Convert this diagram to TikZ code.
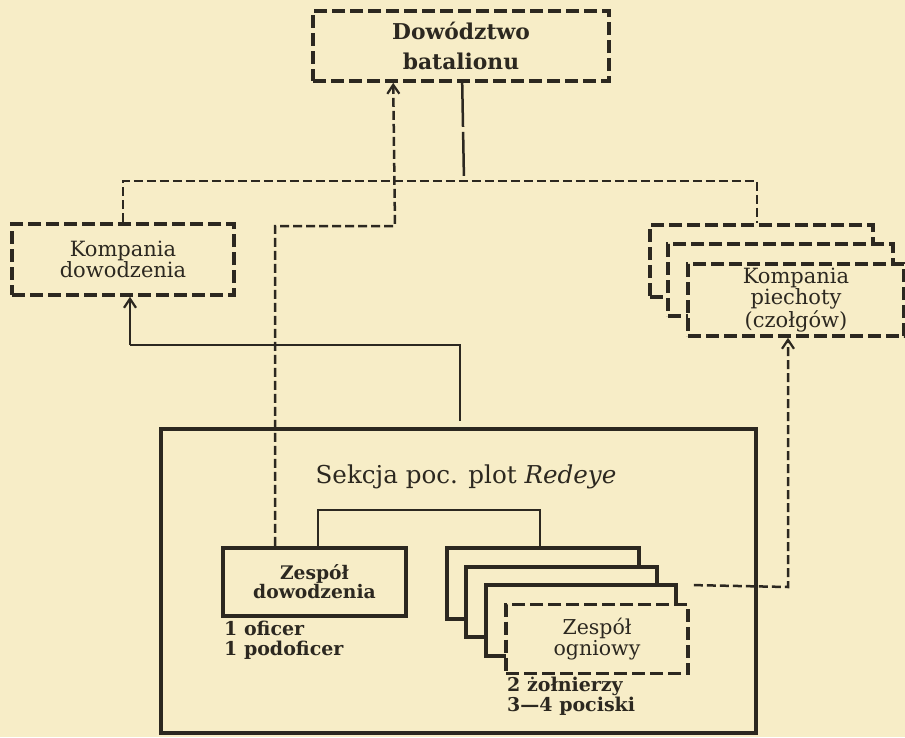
\documentclass[tikz,border=0pt]{standalone}
\usepackage{fontspec}
\setmainfont{DejaVu Serif}
\usetikzlibrary{arrows.meta}
\definecolor{paper}{RGB}{247,237,199}
\definecolor{ink}{RGB}{44,40,32}
\begin{document}
\begin{tikzpicture}[x=1pt,y=-1pt,
  box/.style={rectangle,inner sep=0pt,align=center,text=ink,draw=ink,fill=paper},
  dbox/.style={box,line width=3.6pt,dash pattern=on 13pt off 5pt},
  sbox/.style={box,line width=3.8pt},
  txt/.style={inner sep=0pt,text=ink},
  arr/.style={-{Straight Barb[length=9pt,width=12pt,line width=2.2pt]}},
  dline/.style={draw=ink,line width=2.5pt,dash pattern=on 9pt off 4pt},
  lline/.style={draw=ink,line width=2.5pt,dash pattern=on 44pt off 5pt},
  sline/.style={draw=ink,line width=2.3pt}
]
\useasboundingbox (0,0) rectangle (905,737);
\fill[paper] (0,0) rectangle (905,737);

% Battalion command
\node[dbox,minimum width=296pt,minimum height=70pt,font=\bfseries\fontsize{21.8}{30}\selectfont]
  (bat) at (461,46) {Dowództwo\\batalionu};

% Command company
\node[dbox,minimum width=222pt,minimum height=71pt,font=\fontsize{21}{20}\selectfont]
  (kd) at (123,259.5) {Kompania\\dowodzenia};

% Infantry (tank) companies, stacked
\node[dbox,minimum width=223pt,minimum height=72pt] (kp1) at (761.5,261) {};
\node[dbox,minimum width=225pt,minimum height=72pt] (kp2) at (780.5,280) {};
\node[dbox,minimum width=216pt,minimum height=72pt,font=\fontsize{21}{20}\selectfont]
  (kp3) at (796,300) {Kompania\\piechoty\\(czołgów)};

% Redeye section
\node[box,line width=4.8pt,fill=none,minimum width=595pt,minimum height=304pt] (sek) at (458.5,581) {};
\node[txt,anchor=base,font=\fontsize{24.6}{28}\selectfont] (sekt) at (466,483) {Sekcja poc. plot \textit{Redeye}};

% Command team
\node[sbox,line width=4.2pt,minimum width=183pt,minimum height=68pt,font=\bfseries\fontsize{18.7}{19}\selectfont]
  (zd) at (314.5,582) {Zespół\\dowodzenia};
\node[txt,anchor=north west,align=left,font=\bfseries\fontsize{19}{20}\selectfont]
  (zdt) at (224,621) {1 oficer\\1 podoficer};

% Fire teams, stacked
\node[sbox,minimum width=192pt,minimum height=71pt] (zoA) at (543,583.5) {};
\node[sbox,minimum width=191pt,minimum height=70pt] (zoB) at (561.5,602) {};
\node[sbox,minimum width=190pt,minimum height=71pt] (zoC) at (581,620.5) {};
\node[dbox,minimum width=182pt,minimum height=69pt,font=\fontsize{20.5}{19}\selectfont]
  (zoD) at (597,639) {Zespół\\ogniowy};
\node[txt,anchor=north west,align=left,font=\bfseries\fontsize{19}{20}\selectfont]
  (zot) at (507,677) {2 żołnierzy\\3—4 pociski};

% Connectors
\coordinate (j1) at (395,226);
\draw[dline,arr] ([xshift=-39.5pt]zd.north) |- (j1) -- ([xshift=82pt]bat.south west);

\coordinate (bus) at (464,181);
\draw[lline] ([xshift=151pt]bat.south west) -- (bus);
\draw[dline] (kd.north) |- (bus) -| ([xshift=-4.5pt]kp1.north);

\coordinate (j2) at (130,345);
\draw[sline] ([xshift=1.5pt,yshift=6pt]sek.north) |- (j2);
\draw[sline,arr] (j2) -- ([xshift=7pt]kd.south);

\coordinate (j3) at (788,587);
\draw[dline,arr] ([xshift=16pt,yshift=-2pt]zoC.north east) -- (j3) -- ([xshift=-8pt]kp3.south);

\coordinate (j4) at (430,510);
\draw[sline] ([xshift=3.5pt]zd.north) |- (j4) -| ([xshift=-3pt]zoA.north);
\end{tikzpicture}
\end{document}
